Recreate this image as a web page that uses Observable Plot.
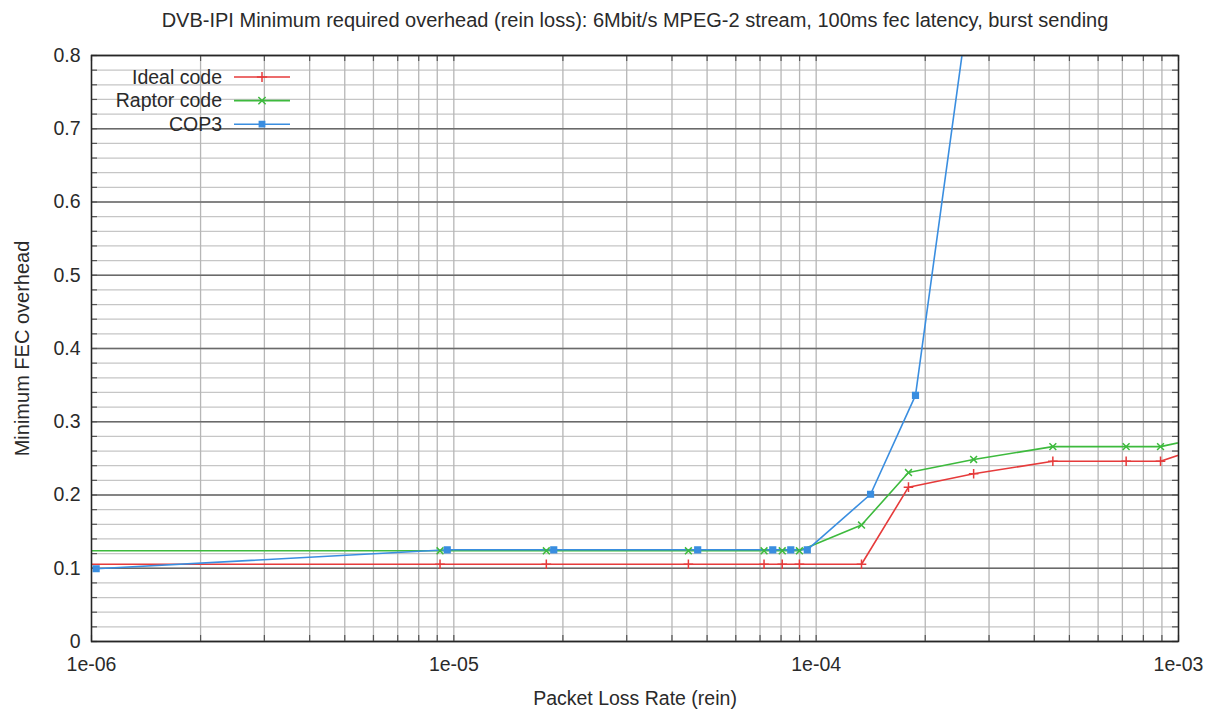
<!DOCTYPE html>
<html>
<head>
<meta charset="utf-8">
<script src="https://cdn.jsdelivr.net/npm/d3@7"></script>
<script src="https://cdn.jsdelivr.net/npm/@observablehq/plot@0.6"></script>
<style>
  body { margin: 0; background: #fff; }
  #chart svg { display: block; }
</style>
</head>
<body>
<div id="chart"></div>
<script>
// Packet loss rate (x) and minimum FEC overhead (y) for each code
const idealRate     = [9e-7, 9.16e-6, 1.80e-5, 4.44e-5, 7.18e-5, 8.06e-5, 8.99e-5, 1.334e-4, 1.798e-4, 2.72e-4, 4.50e-4, 7.17e-4, 8.92e-4, 1.08e-3];
const idealOverhead = [0.1055, 0.1055, 0.1055, 0.1055, 0.1055, 0.1055, 0.1055, 0.1055, 0.2107, 0.229, 0.246, 0.246, 0.246, 0.260];

const raptorRate     = [9e-7, 9.16e-6, 1.80e-5, 4.44e-5, 7.18e-5, 8.06e-5, 8.99e-5, 1.334e-4, 1.798e-4, 2.72e-4, 4.50e-4, 7.17e-4, 8.92e-4, 1.08e-3];
const raptorOverhead = [0.1238, 0.1238, 0.1238, 0.1238, 0.1238, 0.1238, 0.1238, 0.159, 0.2307, 0.2485, 0.266, 0.266, 0.266, 0.275];

const cop3Rate     = [1.03e-6, 9.59e-6, 1.887e-5, 4.71e-5, 7.59e-5, 8.51e-5, 9.45e-5, 1.413e-4, 1.88e-4, 2.85e-4];
const cop3Overhead = [0.0993, 0.1252, 0.1252, 0.1252, 0.1252, 0.1252, 0.1252, 0.201, 0.336, 0.99];

const seriesNames   = ["Ideal code", "Raptor code", "COP3"];
const seriesColors  = ["#e63b3b", "#3dba3d", "#3a8ee0"];
const seriesSymbols = ["plus", "times", "square"];

const xTicks = [1e-6, 1e-5, 1e-4, 1e-3];
const xTickLabels = ["1e-06", "1e-05", "1e-04", "1e-03"];
const yTicks = [0, 0.1, 0.2, 0.3, 0.4, 0.5, 0.6, 0.7, 0.8];
const yTickLabels = ["0", "0.1", "0.2", "0.3", "0.4", "0.5", "0.6", "0.7", "0.8"];

const titleText = "DVB-IPI Minimum required overhead (rein loss): 6Mbit/s MPEG-2 stream, 100ms fec latency, burst sending";
const xLabel = "Packet Loss Rate (rein)";
const yLabel = "Minimum FEC overhead";

const rows = [];
[[idealRate, idealOverhead], [raptorRate, raptorOverhead], [cop3Rate, cop3Overhead]].forEach(([xs, ys], i) => {
  xs.forEach((x, j) => rows.push({series: seriesNames[i], rate: x, overhead: ys[j]}));
});

const W = 1215, H = 710;
const margin = {top: 55, right: 37, bottom: 69, left: 91};
const frameW = W - margin.left - margin.right;
const frameH = H - margin.top - margin.bottom;
const tickLen = 6;

const xDomain = [1e-6, 1e-3];
const yDomain = [0, 0.8];
const xMinorGrid = d3.scaleLog().domain(xDomain).ticks();           // 1..9 per decade
const yMinorGrid = d3.range(0, 81, 2).map(v => v / 100);
const fontFamily = "'Liberation Sans', Arial, Helvetica, sans-serif";
const ink = "#2a2a2a";
const tickStyle = {stroke: "#555", strokeWidth: 1.2};

const plot = Plot.plot({
  width: W,
  height: H,
  marginTop: margin.top,
  marginLeft: margin.left,
  marginRight: margin.right,
  marginBottom: margin.bottom,
  style: {fontFamily, fontSize: "19.5px", color: ink, background: "#fff"},
  x: {type: "log", domain: xDomain, axis: null},
  y: {domain: yDomain, axis: null},
  color: {domain: seriesNames, range: seriesColors},
  symbol: {domain: seriesNames, range: seriesSymbols},
  marks: [
    // grid: light lines every 0.02 and at every log step, darker lines every 0.1
    Plot.gridY(yMinorGrid, {stroke: "#c6c6c6", strokeOpacity: 1, strokeWidth: 1.3}),
    Plot.gridX(xMinorGrid, {stroke: "#b6b6b6", strokeOpacity: 1, strokeWidth: 1.3}),
    Plot.gridY(yTicks, {stroke: "#6a6a6a", strokeOpacity: 1, strokeWidth: 1.3}),
    // short inward ticks along the border
    Plot.tickY(yMinorGrid, {y: d => d, insetRight: frameW - tickLen, ...tickStyle}),
    Plot.tickY(yMinorGrid, {y: d => d, insetLeft: frameW - tickLen, ...tickStyle}),
    Plot.tickX(xMinorGrid, {x: d => d, insetTop: frameH - tickLen, ...tickStyle}),
    Plot.tickX(xMinorGrid, {x: d => d, insetBottom: frameH - tickLen, ...tickStyle}),
    // tick labels
    Plot.text(yTicks, {y: d => d, text: (d, i) => yTickLabels[i], frameAnchor: "left", textAnchor: "end", lineAnchor: "middle", dx: -11, fontSize: 19.5, fill: ink}),
    Plot.text(xTicks, {x: d => d, text: (d, i) => xTickLabels[i], frameAnchor: "bottom", textAnchor: "middle", lineAnchor: "middle", dy: 23, fontSize: 19.5, fill: ink}),
    // series
    Plot.line(rows, {x: "rate", y: "overhead", z: "series", stroke: "series", strokeWidth: 1.6, clip: true}),
    Plot.dot(rows, {x: "rate", y: "overhead", stroke: "series", fill: "series", symbol: "series", r: 3.2, strokeWidth: 1.5, clip: true}),
    Plot.frame({stroke: "#262626", strokeWidth: 1.5}),
    // titles
    Plot.text([titleText], {frameAnchor: "top", textAnchor: "middle", lineAnchor: "middle", dy: -35, fontSize: 20, fill: ink}),
    Plot.text([xLabel], {frameAnchor: "bottom", textAnchor: "middle", lineAnchor: "middle", dy: 57, fontSize: 19.5, fill: ink}),
    Plot.text([yLabel], {frameAnchor: "left", textAnchor: "middle", lineAnchor: "middle", dx: -69, rotate: -90, fontSize: 20, fill: ink})
  ]
});

// Key in the top-left corner of the plotting area
const svg = d3.select(plot);
const key = svg.append("g").attr("font-family", fontFamily).attr("font-size", 19.5);
seriesNames.forEach((name, i) => {
  const y = 77 + i * 23.6;
  key.append("text").attr("x", 222).attr("y", y).attr("dy", "0.35em")
    .attr("text-anchor", "end").attr("fill", ink).text(name);
  key.append("line").attr("x1", 234).attr("x2", 290).attr("y1", y).attr("y2", y)
    .attr("stroke", seriesColors[i]).attr("stroke-width", 1.6);
  const sym = {plus: d3.symbolPlus, times: d3.symbolTimes, square: d3.symbolSquare2}[seriesSymbols[i]];
  key.append("path").attr("transform", `translate(262,${y})`)
    .attr("d", d3.symbol(sym, 36)())
    .attr("fill", seriesColors[i]).attr("stroke", seriesColors[i]).attr("stroke-width", 1.5);
});

document.getElementById("chart").appendChild(plot);
</script>
</body>
</html>
